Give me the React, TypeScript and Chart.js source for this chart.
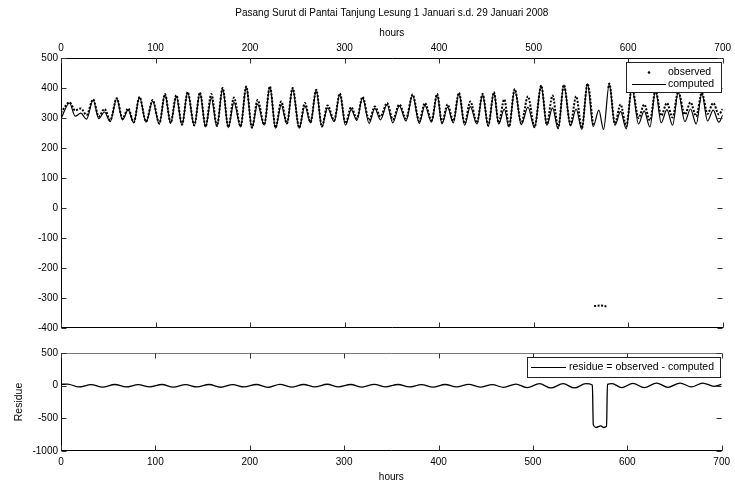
import React, { useEffect, useRef } from "react";
import { Chart, registerables } from "chart.js";

Chart.register(...registerables);

// ---------- texts ----------
const TITLE = "Pasang Surut di Pantai Tanjung Lesung 1 Januari s.d. 29 Januari 2008";
const X_TITLE = "hours";
const RESIDUE_TITLE = "Residue";
const LEGEND_OBSERVED = "observed";
const LEGEND_COMPUTED = "computed";
const LEGEND_RESIDUE = "residue = observed - computed";

// ---------- ticks ----------
const HOUR_TICKS = [0, 100, 200, 300, 400, 500, 600, 700];
const LEVEL_TICKS = [500, 400, 300, 200, 100, 0, -100, -200, -300, -400];
const RESIDUE_TICKS = [500, 0, -500, -1000];

// ---------- computed tide (turning points) ----------
const computedHours = [
  0, 9, 15, 21, 27, 34, 40, 46, 52, 59,
  65, 71, 77, 83, 90, 97, 104, 110, 116, 122,
  128, 134, 141, 147, 153, 159, 165, 171, 177, 183,
  190, 196, 202, 208, 215, 221, 227, 233, 239, 245,
  252, 258, 264, 270, 276, 282, 289, 295, 301, 307,
  313, 319, 326, 332, 338, 345, 351, 358, 365, 372,
  379, 385, 392, 398, 403, 409, 415, 421, 427, 433,
  440, 446, 452, 458, 463, 469, 474, 480, 487, 494,
  501, 508, 514, 520, 526, 532, 539, 545, 551, 557,
  563, 569, 574, 580, 586, 592, 598, 604, 611, 617,
  623, 629, 635, 641, 647, 653, 660, 666, 672, 678,
  684, 690, 696, 700,
];
const computedLevels = [
  298, 350, 306, 316, 296, 360, 298, 320, 288, 365,
  294, 326, 284, 370, 286, 356, 280, 378, 282, 372,
  276, 385, 274, 383, 270, 366, 272, 398, 268, 352,
  270, 404, 266, 346, 276, 404, 266, 344, 280, 398,
  266, 340, 284, 392, 270, 334, 288, 380, 276, 328,
  292, 368, 282, 332, 294, 345, 284, 340, 290, 376,
  282, 342, 286, 378, 280, 336, 284, 382, 276, 338,
  280, 378, 272, 384, 280, 330, 270, 395, 278, 336,
  268, 408, 276, 334, 264, 410, 274, 330, 262, 414,
  272, 326, 262, 414, 276, 322, 264, 402, 280, 324,
  270, 392, 284, 328, 276, 386, 288, 330, 280, 382,
  290, 326, 286, 310,
];

// ---------- observed tide (null = break in the record) ----------
const observedHours = [
  0, 9, 15, 21, 27, 34, 40, 46, 52, 59,
  65, 71, 77, 83, 90, 97, 104, 110, 116, 122,
  128, 134, 141, 147, 153, 159, 165, 171, 177, 183,
  190, 196, 202, 208, 215, 221, 227, 233, 239, 245,
  252, 258, 264, 270, 276, 282, 289, 295, 301, 307,
  313, 319, 326, 332, 338, 345, 351, 358, 365, 372,
  379, 385, 392, 398, 403, 409, 415, 421, 427, 433,
  440, 446, 452, 458, 463, 469, 474, 480, 487, 494,
  501, 508, 514, 520, 526, 532, 539, 545, 551, 557,
  563, 563.5, 564, 571, 577, 577.5, 579, 580, 586, 592, 598,
  604, 611, 617, 623, 629, 635, 641, 647, 653, 660,
  666, 672, 678, 684, 690, 696, 700,
];
const observedLevels = [
  318, 352, 325, 332, 310, 362, 305, 330, 292, 366,
  298, 332, 286, 370, 288, 360, 282, 380, 284, 376,
  278, 386, 276, 385, 272, 380, 274, 400, 270, 368,
  272, 405, 268, 360, 278, 405, 268, 355, 282, 400,
  268, 350, 286, 394, 272, 342, 292, 382, 282, 336,
  298, 370, 292, 338, 305, 350, 295, 345, 298, 378,
  290, 350, 292, 380, 286, 345, 290, 384, 282, 355,
  284, 380, 276, 386, 284, 362, 272, 396, 282, 372,
  270, 408, 280, 375, 268, 410, 278, 372, 266, 414,
  274, null, -327, -325, -328, null, 400, 415, 282, 345, 272,
  402, 300, 345, 292, 392, 308, 350, 302, 388, 312,
  352, 306, 384, 314, 350, 312, 330,
];

// ---------- residue ----------
const residueHours = [
  0, 7, 19, 32, 44, 57, 69, 82, 94, 107,
  119, 132, 144, 157, 169, 182, 194, 207, 219, 232,
  244, 257, 269, 282, 294, 307, 319, 332, 344, 357,
  369, 382, 394, 407, 419, 432, 444, 457, 469, 482,
  494, 507, 519, 532, 544, 556, 563, 564, 567, 572,
  575, 578, 579, 584, 594, 606, 618, 631, 643, 656,
  668, 680, 692, 700,
];
const residueValues = [
  20, 25, -20, 15, -22, 18, -20, 15, -18, 18,
  -22, 15, -20, 18, -24, 16, -20, 18, -25, 20,
  -22, 18, -20, 22, -18, 18, -22, 20, -18, 18,
  -20, 16, -22, 18, -20, 20, -22, 15, -25, 25,
  -30, 30, -35, 30, -35, 30, 10, -600, -640, -615,
  -640, -620, 20, 30, -30, 35, -30, 40, -25, 40,
  -20, 40, -10, 20,
];

// ---------- layout ----------
const FONT = "'Liberation Sans', Arial, Helvetica, sans-serif";
const W = 735;
const TOP_H = 340;
const BOT_H = 144;
const TICK_LEN = 5;

function drawFrame(chart: any, topLineColor: string) {
  const { ctx, chartArea: a, scales } = chart;
  const xs = scales.x;
  const ys = scales.y;
  const L = Math.round(a.left) + 0.5;
  const R = Math.round(a.right) - 0.5;
  const T = Math.round(a.top) + 0.5;
  const B = Math.round(a.bottom) - 0.5;
  ctx.save();
  ctx.lineWidth = 1;
  ctx.strokeStyle = topLineColor;
  ctx.beginPath();
  ctx.moveTo(L - 0.5, T);
  ctx.lineTo(R + 1, T);
  ctx.stroke();
  ctx.strokeStyle = "#000";
  ctx.beginPath();
  ctx.moveTo(L, T);
  ctx.lineTo(L, B);
  ctx.moveTo(L - 0.5, B);
  ctx.lineTo(R + 1, B);
  ctx.stroke();
  ctx.strokeStyle = "#333";
  ctx.beginPath();
  for (const v of HOUR_TICKS) {
    const x = Math.round(xs.getPixelForValue(v)) + 0.5;
    ctx.moveTo(x, T);
    ctx.lineTo(x, T + TICK_LEN);
    ctx.moveTo(x, B);
    ctx.lineTo(x, B - TICK_LEN);
  }
  for (const t of ys.ticks) {
    const y = Math.round(ys.getPixelForValue(t.value)) + 0.5;
    ctx.moveTo(L, y);
    ctx.lineTo(L + TICK_LEN, y);
    ctx.moveTo(R, y);
    ctx.lineTo(R - TICK_LEN, y);
  }
  ctx.stroke();
  ctx.restore();
}

function legendBox(ctx: CanvasRenderingContext2D, x0: number, y0: number, x1: number, y1: number) {
  ctx.fillStyle = "#fff";
  ctx.fillRect(x0, y0, x1 - x0, y1 - y0);
  ctx.strokeStyle = "#222";
  ctx.lineWidth = 1;
  ctx.strokeRect(x0 + 0.5, y0 + 0.5, x1 - x0, y1 - y0);
}

const topDecor = {
  id: "topDecor",
  afterDraw(chart: any) {
    const { ctx, chartArea: a } = chart;
    drawFrame(chart, "#000");
    const cx = (a.left + a.right) / 2;
    ctx.save();
    ctx.fillStyle = "#000";
    ctx.textAlign = "center";
    ctx.textBaseline = "middle";
    ctx.font = `10px ${FONT}`;
    ctx.fillText(TITLE, cx, 13);
    ctx.fillText(X_TITLE, cx, 33);
    // legend
    legendBox(ctx, 626, 62, 721, 92);
    ctx.fillStyle = "#000";
    ctx.beginPath();
    ctx.arc(649, 72.5, 1.3, 0, Math.PI * 2);
    ctx.fill();
    ctx.strokeStyle = "#000";
    ctx.lineWidth = 1.1;
    ctx.beginPath();
    ctx.moveTo(632, 84.5);
    ctx.lineTo(666, 84.5);
    ctx.stroke();
    ctx.textAlign = "left";
    ctx.font = `10.5px ${FONT}`;
    ctx.fillText(LEGEND_OBSERVED, 668, 72.5);
    ctx.fillText(LEGEND_COMPUTED, 668, 84.5);
    ctx.restore();
  },
};

const bottomDecor = {
  id: "bottomDecor",
  afterDraw(chart: any) {
    const { ctx, chartArea: a } = chart;
    drawFrame(chart, "#777");
    const cx = (a.left + a.right) / 2;
    ctx.save();
    ctx.fillStyle = "#000";
    ctx.textAlign = "center";
    ctx.textBaseline = "middle";
    ctx.font = `10px ${FONT}`;
    ctx.fillText(X_TITLE, cx, 137);
    ctx.save();
    ctx.translate(19, 62);
    ctx.rotate(-Math.PI / 2);
    ctx.font = `10.5px ${FONT}`;
    ctx.fillText(RESIDUE_TITLE, 0, 0);
    ctx.restore();
    // legend
    legendBox(ctx, 527, 17, 720, 37);
    ctx.strokeStyle = "#000";
    ctx.lineWidth = 1.1;
    ctx.beginPath();
    ctx.moveTo(531, 27.5);
    ctx.lineTo(566, 27.5);
    ctx.stroke();
    ctx.fillStyle = "#000";
    ctx.textAlign = "left";
    ctx.font = `10.5px ${FONT}`;
    ctx.fillText(LEGEND_RESIDUE, 569, 27.5);
    ctx.restore();
  },
};

function baseOptions(
  yMin: number,
  yMax: number,
  yTicks: number[],
  xPos: "top" | "bottom",
  xHeight: number,
  pad: { top: number; bottom: number }
) {
  const tickFont = { family: FONT, size: 10 };
  return {
    responsive: false,
    maintainAspectRatio: false,
    animation: false,
    events: [],
    layout: { padding: { left: 0, right: 11, top: pad.top, bottom: pad.bottom } },
    plugins: { legend: { display: false }, tooltip: { enabled: false }, title: { display: false } },
    elements: { point: { radius: 0 } },
    scales: {
      x: {
        type: "linear",
        position: xPos,
        min: 0,
        max: 700,
        afterBuildTicks: (s: any) => {
          s.ticks = HOUR_TICKS.map((v) => ({ value: v }));
        },
        afterFit: (s: any) => {
          s.height = xHeight;
        },
        grid: { display: false, drawTicks: false },
        border: { display: false },
        ticks: {
          font: tickFont,
          color: "#000",
          padding: xPos === "top" ? 4 : 5,
          maxRotation: 0,
          autoSkip: false,
          callback: (v: any) => String(v),
        },
      },
      y: {
        type: "linear",
        min: yMin,
        max: yMax,
        afterBuildTicks: (s: any) => {
          s.ticks = yTicks.map((v) => ({ value: v }));
        },
        afterFit: (s: any) => {
          s.width = 61;
        },
        grid: { display: false, drawTicks: false },
        border: { display: false },
        ticks: {
          font: tickFont,
          color: "#000",
          padding: 3,
          autoSkip: false,
          callback: (v: any) => String(v),
        },
      },
    },
  };
}

export default function App() {
  const topRef = useRef<HTMLCanvasElement | null>(null);
  const botRef = useRef<HTMLCanvasElement | null>(null);

  useEffect(() => {
    if (!topRef.current || !botRef.current) return;
    const topChart = new Chart(topRef.current, {
      type: "line",
      data: {
        datasets: [
          {
            label: LEGEND_COMPUTED,
            data: computedHours.map((h, i) => ({ x: h, y: computedLevels[i] })),
            borderColor: "#000",
            borderWidth: 1.2,
            pointRadius: 0,
            cubicInterpolationMode: "monotone",
            fill: false,
          },
          {
            label: LEGEND_OBSERVED,
            data: observedHours.map((h, i) => ({ x: h, y: observedLevels[i] })),
            borderColor: "#000",
            borderWidth: 2,
            borderDash: [2, 1.5],
            pointRadius: 0,
            cubicInterpolationMode: "monotone",
            spanGaps: false,
            fill: false,
          },
        ],
      },
      options: baseOptions(-400, 500, LEVEL_TICKS, "top", 58, { top: 0, bottom: 12 }) as any,
      plugins: [topDecor],
    });
    const botChart = new Chart(botRef.current, {
      type: "line",
      data: {
        datasets: [
          {
            label: LEGEND_RESIDUE,
            data: residueHours.map((h, i) => ({ x: h, y: residueValues[i] })),
            borderColor: "#000",
            borderWidth: 1.3,
            pointRadius: 0,
            cubicInterpolationMode: "monotone",
            fill: false,
          },
        ],
      },
      options: baseOptions(-1000, 500, RESIDUE_TICKS, "bottom", 33, { top: 13, bottom: 0 }) as any,
      plugins: [bottomDecor],
    });
    return () => {
      topChart.destroy();
      botChart.destroy();
    };
  }, []);

  return (
    <div style={{ position: "fixed", left: 0, top: 0, width: W, height: TOP_H + BOT_H, background: "#fff" }}>
      <canvas
        ref={topRef}
        width={W}
        height={TOP_H}
        style={{ position: "absolute", left: 0, top: 0, width: W, height: TOP_H }}
      />
      <canvas
        ref={botRef}
        width={W}
        height={BOT_H}
        style={{ position: "absolute", left: 0, top: TOP_H, width: W, height: BOT_H }}
      />
    </div>
  );
}
